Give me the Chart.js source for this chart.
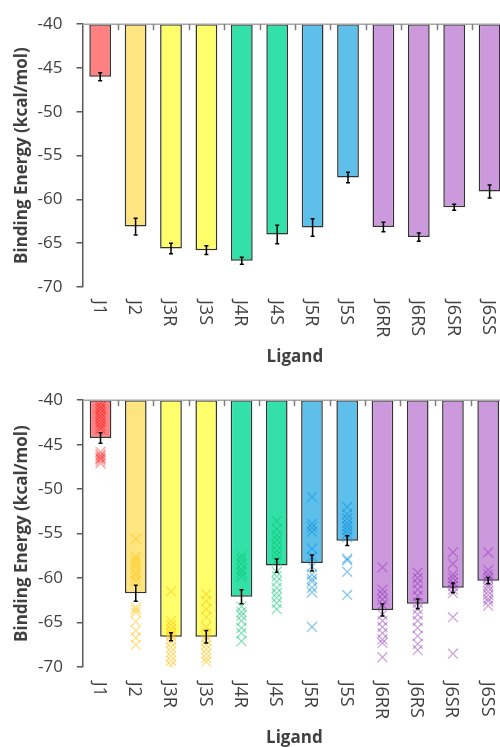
<!DOCTYPE html>
<html>
<head>
<meta charset="utf-8">
<script src="https://cdn.jsdelivr.net/npm/chart.js@4.4.0/dist/chart.umd.min.js"></script>
<style>
    html, body { margin: 0; padding: 0; background: #fff; overflow: hidden; }
    #wrap { position: relative; width: 500px; height: 747px; overflow: hidden; }
    canvas { position: absolute; left: 0; }
    #topChart { top: 0; }
    #bottomChart { top: 376px; }
</style>
</head>
<body>
<div id="wrap">
    <canvas id="topChart" width="512" height="372"></canvas>
    <canvas id="bottomChart" width="514" height="371"></canvas>
</div>
<script>
const ligands = ["J1", "J2", "J3R", "J3S", "J4R", "J4S", "J5R", "J5S", "J6RR", "J6RS", "J6SR", "J6SS"];
const yTicks = [-70, -65, -60, -55, -50, -45, -40];

// top panel: mean binding energy with error
const topMeans = [-46.0, -63.1, -65.6, -65.8, -67.0, -64.0, -63.2, -57.5, -63.15, -64.3, -60.9, -59.1];
const topErrors = [0.45, 0.95, 0.6, 0.5, 0.4, 1.05, 1.0, 0.6, 0.55, 0.47, 0.35, 0.75];

// bottom panel: mean binding energy with error, plus individual runs
const bottomMeans = [-44.25, -61.7, -66.6, -66.6, -62.1, -58.6, -58.3, -55.8, -63.6, -62.9, -61.1, -60.3];
const bottomErrors = [0.6, 0.9, 0.45, 0.7, 0.8, 0.75, 0.9, 0.55, 0.67, 0.55, 0.55, 0.35];

const runsJ1 = [-40.3, -40.7, -41.0, -41.4, -41.8, -42.1, -42.5, -42.9, -43.2, -45.8, -46.1, -46.3, -46.5, -46.6, -46.8, -47.1];
const runsJ2 = [-55.6, -57.6, -58.0, -58.4, -58.9, -59.4, -59.8, -60.3, -63.3, -63.6, -63.9, -64.9, -65.9, -66.7, -67.5];
const runsJ3R = [-61.5, -64.8, -65.3, -65.8, -66.2, -66.5, -66.9, -67.3, -67.8, -68.3, -68.8, -69.3, -69.8];
const runsJ3S = [-61.8, -62.6, -63.5, -64.4, -65.5, -66.2, -66.6, -67.0, -67.5, -68.0, -68.5, -69.0, -69.4];
const runsJ4R = [-57.5, -57.9, -58.4, -59.0, -59.4, -59.8, -63.2, -63.8, -64.2, -64.8, -65.6, -66.2, -67.1];
const runsJ4S = [-53.6, -54.5, -55.2, -55.7, -56.3, -56.9, -57.4, -58.0, -59.3, -59.8, -60.4, -61.1, -61.7, -62.2, -62.8, -63.5];
const runsJ5R = [-50.9, -53.9, -54.3, -54.8, -56.7, -57.6, -58.7, -59.6, -60.1, -60.4, -61.1, -61.6, -65.5];
const runsJ5S = [-52.0, -52.8, -53.3, -53.8, -54.2, -54.6, -55.0, -55.4, -57.8, -58.0, -59.3, -61.9];
const runsJ6RR = [-58.8, -61.3, -61.8, -62.4, -63.0, -64.1, -64.8, -65.5, -66.2, -66.9, -67.3, -68.9];
const runsJ6RS = [-59.4, -60.0, -60.6, -61.3, -62.0, -62.8, -63.5, -64.1, -64.8, -65.6, -66.5, -67.4, -68.1];
const runsJ6SR = [-57.1, -58.4, -59.6, -60.0, -60.5, -60.9, -61.3, -61.7, -64.4, -68.5];
const runsJ6SS = [-57.1, -59.1, -59.6, -60.0, -60.4, -60.8, -61.1, -61.5, -61.9, -62.3, -62.6, -63.1];
const runs = [runsJ1, runsJ2, runsJ3R, runsJ3S, runsJ4R, runsJ4S, runsJ5R, runsJ5S, runsJ6RR, runsJ6RS, runsJ6SR, runsJ6SS];

const barColors = ["#ff8080", "#ffe57f", "#ffff6b", "#ffff6b", "#33e0a8", "#33e0a8",
    "#5ebfea", "#5ebfea", "#cc99dd", "#cc99dd", "#cc99dd", "#cc99dd"];
const crossColors = ["rgba(255, 0, 0, 0.4)", "rgba(255, 192, 0, 0.5)", "rgba(255, 192, 0, 0.5)", "rgba(255, 192, 0, 0.5)",
    "rgba(0, 200, 110, 0.5)", "rgba(0, 200, 110, 0.5)", "rgba(0, 140, 220, 0.5)", "rgba(0, 140, 220, 0.5)",
    "rgba(140, 40, 180, 0.45)", "rgba(140, 40, 180, 0.45)", "rgba(140, 40, 180, 0.45)", "rgba(140, 40, 180, 0.45)"];

const FONT = "'Open Sans', sans-serif";
const TEXT = "#404040";

// axis line at -40, inward category ticks, error bars and rotated labels
const panelDecor = {
    id: "panelDecor",
    afterDraw(chart, args, opts) {
        const { ctx, chartArea } = chart;
        const x = chart.scales.x;
        const y = chart.scales.y;
        const top = y.getPixelForValue(-40);
        const half = (x.getPixelForValue(1) - x.getPixelForValue(0)) / 2;

        ctx.save();
        ctx.strokeStyle = "#a6a6a6";
        ctx.lineWidth = 1.5;
        ctx.beginPath();
        ctx.moveTo(chartArea.left, top);
        ctx.lineTo(chartArea.right, top);
        ctx.stroke();

        ctx.strokeStyle = "#7f7f7f";
        ligands.forEach((_, i) => {
            const bx = Math.round(x.getPixelForValue(i) + half) + 0.5;
            ctx.beginPath();
            ctx.moveTo(bx, top);
            ctx.lineTo(bx, top + 6);
            ctx.stroke();
        });

        ctx.strokeStyle = "#000";
        ctx.lineWidth = 1.5;
        opts.means.forEach((m, i) => {
            const cx = x.getPixelForValue(i);
            const y1 = y.getPixelForValue(m + opts.errors[i]);
            const y2 = y.getPixelForValue(m - opts.errors[i]);
            ctx.beginPath();
            ctx.moveTo(cx, y1);
            ctx.lineTo(cx, y2);
            ctx.moveTo(cx - 2, y1);
            ctx.lineTo(cx + 2, y1);
            ctx.moveTo(cx - 2, y2);
            ctx.lineTo(cx + 2, y2);
            ctx.stroke();
        });

        ctx.fillStyle = TEXT;
        ctx.font = "18px " + FONT;
        ligands.forEach((label, i) => {
            ctx.save();
            ctx.translate(x.getPixelForValue(i) - 1.5, chartArea.bottom + opts.labelGap);
            ctx.rotate(Math.PI / 2);
            ctx.textAlign = "left";
            ctx.textBaseline = "middle";
            ctx.fillText(label, 0, 0);
            ctx.restore();
        });

        ctx.font = "bold 17px " + FONT;
        ctx.textAlign = "center";
        ctx.textBaseline = "middle";
        ctx.fillText("Ligand", (chartArea.left + chartArea.right) / 2, opts.titleY);
        ctx.restore();
    }
};

function makePanel(id, means, errors, withRuns, geo) {
    const datasets = [{
        type: "bar",
        data: means.map((m) => [-40, m]),
        backgroundColor: barColors,
        borderColor: "#333333",
        borderWidth: 1.5,
        borderSkipped: false,
        barPercentage: 0.615,
        categoryPercentage: 1,
        order: 2
    }];

    if (withRuns) {
        const points = [];
        const colors = [];
        runs.forEach((list, i) => {
            list.forEach((v) => {
                points.push({ x: ligands[i], y: v });
                colors.push(crossColors[i]);
            });
        });
        datasets.push({
            type: "scatter",
            data: points,
            pointStyle: "crossRot",
            pointRadius: 7,
            pointBorderWidth: 1.2,
            pointBorderColor: colors,
            pointBackgroundColor: "transparent",
            order: 1
        });
    }

    new Chart(document.getElementById(id), {
        type: "bar",
        data: { labels: ligands, datasets },
        plugins: [panelDecor],
        options: {
            responsive: false,
            animation: false,
            events: [],
            layout: { padding: { top: geo.top, right: geo.right, left: 0, bottom: 0 } },
            plugins: {
                legend: { display: false },
                tooltip: { enabled: false },
                panelDecor: { means, errors, labelGap: geo.labelGap, titleY: geo.titleY }
            },
            scales: {
                x: {
                    offset: true,
                    grid: { display: false },
                    border: { display: false },
                    ticks: { display: false },
                    afterFit: (scale) => { scale.height = geo.xHeight; }
                },
                y: {
                    min: -70,
                    max: -40,
                    afterBuildTicks: (scale) => { scale.ticks = yTicks.map((v) => ({ value: v })); },
                    afterFit: (scale) => { scale.width = geo.yWidth; },
                    border: { display: true, color: "#595959", width: 1.5 },
                    grid: { drawOnChartArea: false, drawTicks: true, tickLength: 6, color: "#595959", lineWidth: 1.5 },
                    ticks: { color: TEXT, padding: 14, font: { family: FONT, size: 17 } },
                    title: {
                        display: true,
                        text: "Binding Energy (kcal/mol)",
                        color: TEXT,
                        padding: { top: 12, bottom: 0 },
                        font: { family: FONT, size: 17, weight: "bold" }
                    }
                }
            }
        }
    });
}

makePanel("topChart", topMeans, topErrors, false,
    { top: 19, right: 4.7, xHeight: 85, yWidth: 82.5, labelGap: 13, titleY: 357 });
makePanel("bottomChart", bottomMeans, bottomErrors, true,
    { top: 19.5, right: 2, xHeight: 80, yWidth: 82.9, labelGap: 14.7, titleY: 362 });
</script>
</body>
</html>
